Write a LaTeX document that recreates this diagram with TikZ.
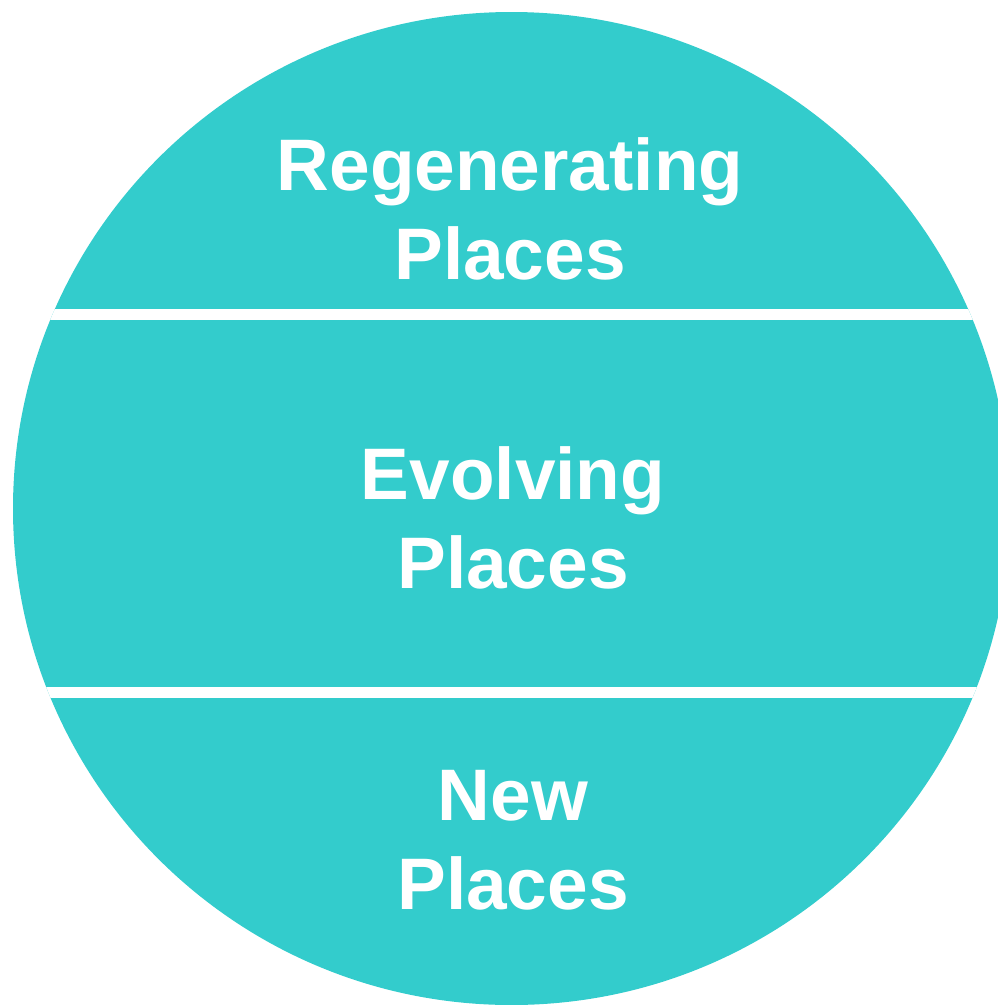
\documentclass[tikz,border=0pt]{standalone}
\usepackage{fontspec}
\setmainfont{Liberation Sans}
\definecolor{disc}{HTML}{33CCCC}
\tikzset{
  label/.style={text=white, font=\bfseries\fontsize{73}{89}\selectfont, align=center, inner sep=0pt, anchor=base},
  gap/.style={fill=white, draw=none}
}
\begin{document}
\begin{tikzpicture}[x=1pt,y=-1pt]
\useasboundingbox (0,0) rectangle (998,1005);
\begin{scope}
  \clip (0,0) rectangle (998,1005);
  \fill[disc] (511.5,508.5) ellipse [x radius=498.5, y radius=496.5];
  \begin{scope}
    \clip (511.5,508.5) ellipse [x radius=498.5, y radius=496.5];
    \fill[gap] (0,309) rectangle (1010,319.5);
    \fill[gap] (0,687) rectangle (1010,698);
  \end{scope}
\end{scope}
\node[label] (regen) at (510,279) {Regenerating\\Places};
\node[label] (evolve) at (513,588) {Evolving\\Places};
\node[label] (new) at (513,909) {New\\Places};
\end{tikzpicture}
\end{document}
